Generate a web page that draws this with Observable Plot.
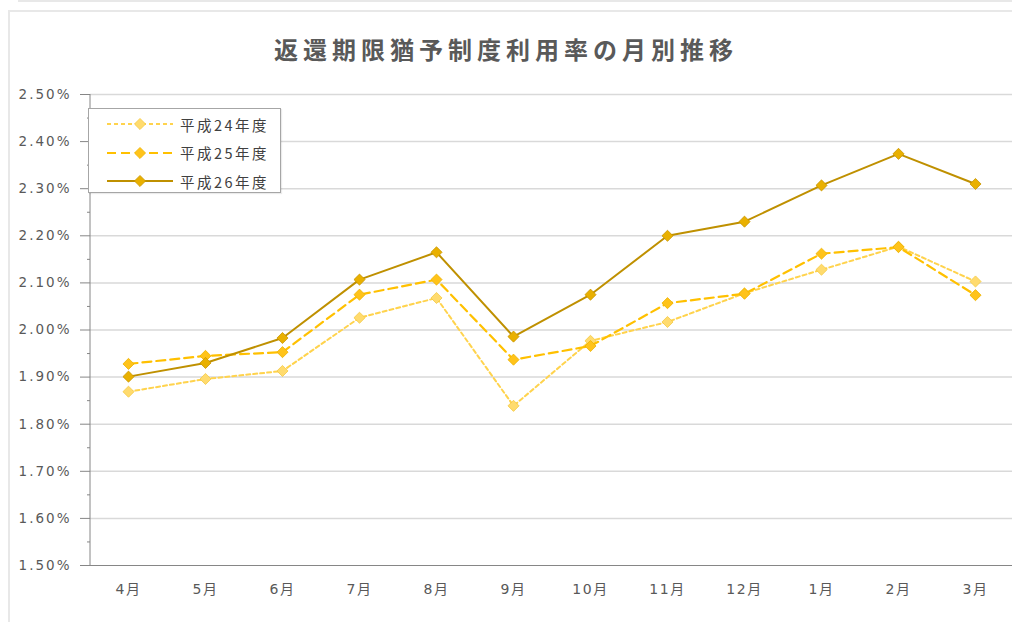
<!DOCTYPE html>
<html>
<head>
<meta charset="utf-8">
<script src="https://cdn.jsdelivr.net/npm/d3@7"></script>
<script src="https://cdn.jsdelivr.net/npm/@observablehq/plot@0.6"></script>
<style>
  body { margin: 0; background: #fff; }
  #wrap { position: relative; width: 1012px; height: 622px; overflow: hidden; background: #fff;
          font-family: "DejaVu Sans", "Noto Sans CJK JP", sans-serif; }
  #frame { position: absolute; left: 8px; top: 10px; width: 1100px; height: 700px;
           border-left: 2px solid #e8e8e8; border-top: 2px solid #e8e8e8; }
  #topline { position: absolute; left: 18px; top: 0; width: 1100px; border-top: 2px solid #e8e8e8; }
  #title { position: absolute; left: 0; top: 30px; width: 1012px; text-align: center;
           font-family: "Noto Sans CJK JP", sans-serif; font-weight: bold; font-size: 24px;
           letter-spacing: 5px; color: #595959; line-height: 38px; }
  #chart { position: absolute; left: 0; top: 80px; }
  #chart svg g[aria-label="x-axis tick label"] text { letter-spacing: 1.5px; font-size: 14px; }
  #chart svg g[aria-label="y-axis tick label"] text { letter-spacing: 2px; font-size: 13.5px; }
  #legend { position: absolute; left: 88px; top: 108px; width: 191px; height: 83px;
            border: 1px solid #a6a6a6; background: #fff; box-shadow: 1px 1px 1px rgba(0,0,0,0.08); }
  .lrow { position: absolute; left: 0; height: 28px; display: flex; align-items: center; }
  .lrow span { font-family: "Noto Sans CJK JP", sans-serif; font-size: 14.5px; letter-spacing: 2.5px; color: #404040; margin-left: 1px; }
</style>
</head>
<body>
<div id="wrap">
  <div id="frame"></div>
  <div id="topline"></div>
  <div id="title">返還期限猶予制度利用率の月別推移</div>
  <div id="chart"></div>
  <div id="legend"></div>
</div>
<script>
// ---- data (values in %) ----
const months = ["4月","5月","6月","7月","8月","9月","10月","11月","12月","1月","2月","3月"];
const seriesNames = ["平成24年度","平成25年度","平成26年度"];
const h24 = [1.869, 1.896, 1.913, 2.026, 2.068, 1.839, 1.977, 2.017, 2.078, 2.128, 2.177, 2.103];
const h25 = [1.928, 1.945, 1.953, 2.075, 2.107, 1.937, 1.966, 2.057, 2.077, 2.162, 2.176, 2.074];
const h26 = [1.901, 1.930, 1.983, 2.107, 2.165, 1.986, 2.075, 2.200, 2.230, 2.307, 2.374, 2.310];
const yTicks = [1.5, 1.6, 1.7, 1.8, 1.9, 2.0, 2.1, 2.2, 2.3, 2.4, 2.5];
const yMinorTicks = [1.55, 1.65, 1.75, 1.85, 1.95, 2.05, 2.15, 2.25, 2.35, 2.45];

// ---- styles ----
const styles = [
  { line: "#FFD34D", width: 2,   dash: "4,3", fill: "#FFDB6E", stroke: "#F5C940" },
  { line: "#FFC000", width: 2.2, dash: "9,5", fill: "#FFC31A", stroke: "#EDB300" },
  { line: "#BF9000", width: 2,   dash: null,  fill: "#E9B000", stroke: "#C99600" }
];
const seriesValues = [h24, h25, h26];
const tables = seriesValues.map((vals, i) => months.map((m, j) => ({ month: m, value: vals[j], series: seriesNames[i] })));

const W = 1012, H = 542;
const marks = [
  Plot.ruleY(yTicks.slice(1), { stroke: "#d9d9d9", strokeWidth: 1.5 }),
  Plot.ruleY([yTicks[0]], { stroke: "#868686", strokeWidth: 1 }),
  (index, scales, values, dims) => {
    const l = document.createElementNS("http://www.w3.org/2000/svg", "line");
    l.setAttribute("x1", dims.marginLeft); l.setAttribute("x2", dims.marginLeft);
    l.setAttribute("y1", dims.marginTop); l.setAttribute("y2", dims.height - dims.marginBottom);
    l.setAttribute("stroke", "#868686");
    return l;
  },
  Plot.axisY({ ticks: yMinorTicks, tickSize: 3, tickFormat: () => "", stroke: "#868686" }),
  Plot.axisY({ ticks: yTicks, tickSize: 10, tickPadding: 9, tickFormat: d => d.toFixed(2) + "%", stroke: "#868686", fill: "#595959" }),
  Plot.axisX({ tickSize: 0, tickPadding: 19, fill: "#595959" })
];
tables.forEach((t, i) => {
  const s = styles[i];
  const lineOpts = { x: "month", y: "value", stroke: s.line, strokeWidth: s.width };
  if (s.dash) lineOpts.strokeDasharray = s.dash;
  marks.push(Plot.line(t, lineOpts));
  marks.push(Plot.dot(t, { x: "month", y: "value", symbol: "diamond2", r: 5, fill: s.fill, stroke: s.stroke, strokeWidth: 0.8 }));
});

const chart = Plot.plot({
  width: W, height: H,
  marginLeft: 90, marginRight: 0, marginTop: 14, marginBottom: 57,
  style: { fontSize: "13px", fontFamily: "'DejaVu Sans', 'Noto Sans CJK JP', sans-serif", color: "#595959", background: "transparent" },
  x: { type: "point", domain: months, padding: 0.47, label: null },
  y: { domain: [1.5, 2.5], label: null },
  marks
});
document.getElementById("chart").appendChild(chart);

// ---- legend ----
const legend = document.getElementById("legend");
seriesNames.forEach((name, i) => {
  const s = styles[i];
  const row = document.createElement("div");
  row.className = "lrow";
  row.style.top = (i * 28.5 + 1) + "px";
  const sw = d3.create("svg").attr("width", 90).attr("height", 28);
  const ln = sw.append("line").attr("x1", 18).attr("x2", 84).attr("y1", 14).attr("y2", 14)
    .attr("stroke", s.line).attr("stroke-width", s.width);
  if (s.dash) ln.attr("stroke-dasharray", s.dash);
  sw.append("path").attr("transform", "translate(51,14)")
    .attr("d", d3.symbol(d3.symbolDiamond2, 25 * Math.PI)())
    .attr("fill", s.fill).attr("stroke", s.stroke).attr("stroke-width", 0.8);
  row.appendChild(sw.node());
  const sp = document.createElement("span");
  sp.textContent = name;
  row.appendChild(sp);
  legend.appendChild(row);
});
</script>
</body>
</html>
